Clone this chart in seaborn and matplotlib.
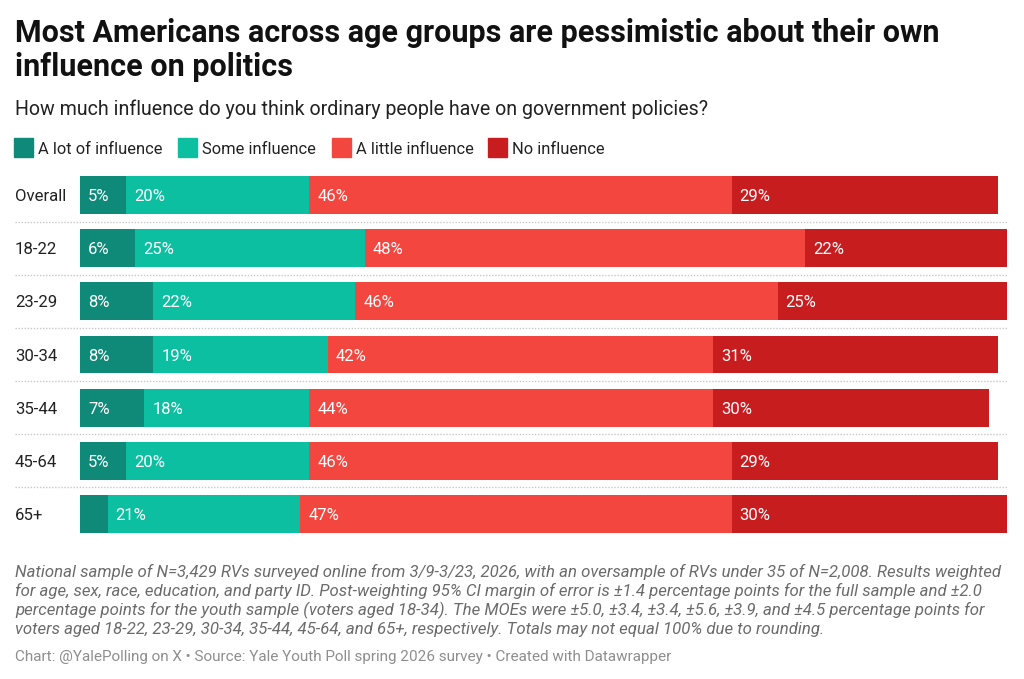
import matplotlib
matplotlib.use('Agg')
import matplotlib.pyplot as plt
import seaborn as sns
import pandas as pd
import numpy as np
from matplotlib.patches import Rectangle

# ---------------- data ----------------
groups = ['Overall', '18-22', '23-29', '30-34', '35-44', '45-64', '65+']
a_lot = [5, 6, 8, 8, 7, 5, 3]
some = [20, 25, 22, 19, 18, 20, 21]
a_little = [46, 48, 46, 42, 44, 46, 47]
no_infl = [29, 22, 25, 31, 30, 29, 30]
categories = ['A lot of influence', 'Some influence', 'A little influence', 'No influence']
series = [a_lot, some, a_little, no_infl]
colors = ['#0f8a78', '#0bbfa0', '#f2463e', '#c81d1f']

title = "Most Americans across age groups are pessimistic about their own\ninfluence on politics"
subtitle = "How much influence do you think ordinary people have on government policies?"
notes = ["National sample of N=3,429 RVs surveyed online from 3/9-3/23, 2026, with an oversample of RVs under 35 of N=2,008. Results weighted",
         "for age, sex, race, education, and party ID. Post-weighting 95% CI margin of error is \u00b11.4 percentage points for the full sample and \u00b12.0",
         "percentage points for the youth sample (voters aged 18-34). The MOEs were \u00b15.0, \u00b13.4, \u00b13.4, \u00b15.6, \u00b13.9, and \u00b14.5 percentage points for",
         "voters aged 18-22, 23-29, 30-34, 35-44, 45-64, and 65+, respectively. Totals may not equal 100% due to rounding."]
credit = "Chart: @YalePolling on X \u2022 Source: Yale Youth Poll spring 2026 survey \u2022 Created with Datawrapper"

# ---------------- tidy table ----------------
rows = []
for gi, g in enumerate(groups):
    cum = 0
    for ci, c in enumerate(categories):
        v = series[ci][gi]
        rows.append({'group': g, 'category': c, 'value': v, 'start': cum, 'end': cum + v})
        cum += v
df = pd.DataFrame(rows)

sns.set_theme(style='white')
plt.rcParams['font.family'] = ['Roboto', 'DejaVu Sans']

W, H = 1024, 679
fig = plt.figure(figsize=(W / 100, H / 100), dpi=100)
fig.patch.set_facecolor('white')

def fy(px):
    return 1 - px / H

def fx(px):
    return px / W

top_px, bot_px = 168.4, 540.6
ax = fig.add_axes([fx(80), fy(bot_px), 927 / W, (bot_px - top_px) / H])

pal = dict(zip(categories, colors))
hue_order = categories[::-1]
sns.barplot(data=df, x='end', y='group', hue='category', hue_order=hue_order,
            order=groups, palette=pal, dodge=False, orient='h', width=0.714,
            linewidth=0, legend=False, ax=ax, errorbar=None, saturation=1)

ax.set_xlim(0, 101)
ax.set_ylim(len(groups) - 0.5, -0.5)
ax.set_axis_off()

# value labels
pad = 8 / 9.18
for _, r in df.iterrows():
    if r['value'] >= 4:
        yi = groups.index(r['group'])
        ax.text(r['start'] + pad, yi, f"{r['value']}%", color='white', fontsize=12,
                ha='left', va='center_baseline')

# category labels
tr = ax.get_yaxis_transform()
for yi, g in enumerate(groups):
    ax.text((15 - 80) / 927, yi, g, transform=tr, fontsize=12.1, color='#222222',
            ha='left', va='center_baseline')

# dotted separators
for yi in range(len(groups) - 1):
    ax.plot([(15 - 80) / 927, 1.0], [yi + 0.5, yi + 0.5], transform=tr,
            color='#c8c8c8', lw=1, ls=(0, (1, 1.2)), clip_on=False)

# title, subtitle
fig.text(fx(15), fy(42.5), title.split('\n')[0], fontsize=22, fontweight='bold',
         color='#111111', ha='left', va='baseline')
fig.text(fx(15), fy(76), title.split('\n')[1], fontsize=22, fontweight='bold',
         color='#111111', ha='left', va='baseline')
fig.text(fx(15), fy(115), subtitle, fontsize=14.1, color='#222222', ha='left', va='baseline')

# legend
leg_sq = [14, 178, 332, 488]
for i, c in enumerate(categories):
    fig.patches.append(Rectangle((fx(leg_sq[i]), fy(157)), 19 / W, 19 / H,
                                 transform=fig.transFigure, color=colors[i]))
    fig.text(fx(leg_sq[i] + 24), fy(154), c, fontsize=11.9, color='#222222',
             ha='left', va='baseline')

# notes
for i, line in enumerate(notes):
    fig.text(fx(15), fy(577 + 19.1 * i), line, fontsize=12.1, style='italic',
             color='#6b6b6b', ha='left', va='baseline')
fig.text(fx(15), fy(661), credit, fontsize=11.0, color='#8e8e8e', ha='left', va='baseline')

fig.savefig('out.png', dpi=100, facecolor='white')
